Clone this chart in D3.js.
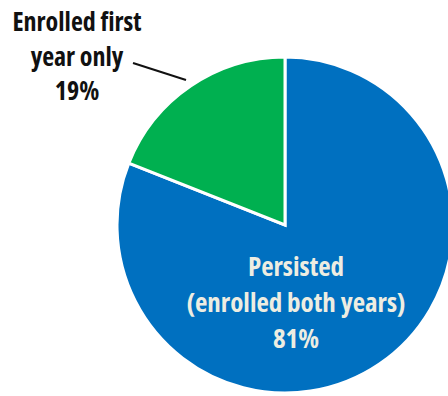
<!DOCTYPE html>
<html>
<head>
<meta charset="utf-8">
<script src="https://cdn.jsdelivr.net/npm/d3@7"></script>
<style>
  html, body { margin: 0; padding: 0; background: #fff; }
  svg text { font-family: "Open Sans", "Liberation Sans Narrow", sans-serif; font-weight: 700; font-stretch: condensed; }
</style>
</head>
<body>
<svg id="chart" width="448" height="396"></svg>
<script>
// Enrollment persistence shares (percent)
const categories = ["Persisted", "Enrolled first year only"];
const values = [81, 19];
const colors = ["#0070C0", "#00B050"];
const labelLines = [
  ["Persisted", "(enrolled both years)", "81%"],
  ["Enrolled first", "year only", "19%"]
];

const svg = d3.select("#chart");
const cx = 285, cy = 225, radius = 168;

const pie = d3.pie().sort(null).startAngle(0).endAngle(2 * Math.PI);
const arcs = pie(values);
const arc = d3.arc().innerRadius(0).outerRadius(radius);

const g = svg.append("g").attr("transform", `translate(${cx},${cy})`);

g.selectAll("path")
  .data(arcs)
  .join("path")
  .attr("d", arc)
  .attr("fill", (d, i) => colors[i])
  .attr("stroke", "#fff")
  .attr("stroke-width", 3)
  .attr("stroke-linejoin", "miter");

// Label inside the large slice
const inner = svg.append("text")
  .attr("text-anchor", "middle")
  .attr("fill", "#EDEDE2")
  .attr("font-size", 27);
labelLines[0].forEach((t, i) => {
  inner.append("tspan").attr("x", 296).attr("y", 276 + i * 36).text(t);
});

// Label outside the small slice with a leader line
const outer = svg.append("text")
  .attr("text-anchor", "middle")
  .attr("fill", "#111")
  .attr("font-size", 26);
labelLines[1].forEach((t, i) => {
  outer.append("tspan").attr("x", 77).attr("y", 31 + i * 34.5).text(t);
});

// Leader line from the label towards the slice edge
svg.append("line")
  .attr("x1", 133).attr("y1", 63)
  .attr("x2", 186).attr("y2", 80)
  .attr("stroke", "#111")
  .attr("stroke-width", 2);
</script>
</body>
</html>
